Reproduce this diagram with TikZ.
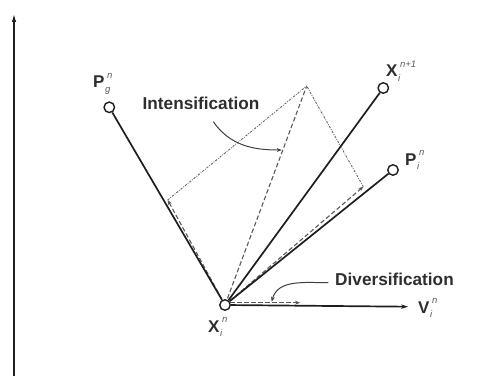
\documentclass[tikz,border=0pt]{standalone}
\usepackage{fontspec}
\setmainfont{Liberation Sans}
\usetikzlibrary{arrows.meta}
\definecolor{ink}{HTML}{1E1E1E}
\definecolor{txt}{HTML}{2E2E2E}
\definecolor{scr}{HTML}{5A5A5A}
\newcommand\scrfont{\fontsize{9.5}{10}\selectfont\itshape\mdseries\color{scr}}
\newcommand\ssc[2]{\rlap{\hspace{2.5pt}\raisebox{10pt}{\scrfont #2}}\raisebox{-4.5pt}{\hspace{0.5pt}\scrfont #1}}
\begin{document}
\begin{tikzpicture}[x=1pt,y=1pt,
  solidln/.style={draw=ink, line width=1.7pt},
  ptc/.style={circle, draw=ink, line width=1.4pt, fill=white, minimum size=10.5pt, inner sep=0pt},
  dashln/.style={draw=black!65, line width=1.1pt, dash pattern=on 4.5pt off 2.5pt},
  dotln/.style={draw=black!60, line width=0.9pt, dash pattern=on 2.2pt off 1.3pt on 0.8pt off 1.3pt},
  tip/.style={-{Stealth[length=5pt,width=4pt]}},
  lbl/.style={font=\fontsize{17}{20}\selectfont\bfseries, text=txt, inner sep=0pt},
  word/.style={font=\fontsize{17.2}{20}\selectfont\bfseries, text=txt, inner sep=0pt, anchor=base}]
\useasboundingbox (0,0) rectangle (483,376);

% axis
\coordinate (ax0) at (14,0);
\coordinate (ax1) at (14,363);
\draw[draw=ink, line width=1.7pt, -{Latex[length=9pt,width=4.5pt]}] (ax0) -- (ax1);

% key points
\coordinate (xc) at (225,71);
\coordinate (pgc) at (109.3,268.7);
\coordinate (xn1c) at (383.3,288);
\coordinate (pic) at (393,206);
\coordinate (vend) at (408,69.3);
\coordinate (top) at (306.7,290);
\coordinate (lc) at (167.7,176);
\coordinate (rc) at (363.3,189.3);
\coordinate (dstart) at (230,73.3);
\coordinate (dend) at (300,73.3);

% dashed construction
\draw[dashln, tip] (xc) -- (lc);
\draw[dashln, tip] (xc) -- (rc);
\draw[dashln] (xc) -- (top);
\draw[dotln] (lc) -- (top);
\draw[dotln] (rc) -- (top);
\draw[dashln, tip] (dstart) -- (dend);

% curved label arrows
\coordinate (ia) at (213.3,254.3);
\coordinate (ib) at (281.7,226);
\draw[draw=black!75, line width=1pt, tip] (ia) to[out=-55,in=180] (ib);
\coordinate (da) at (328.3,93.3);
\coordinate (db) at (271.7,74.3);
\draw[draw=black!75, line width=1pt, tip] (da) to[out=180,in=75] (db);

% points
\node[ptc] (X) at (xc) {};
\node[ptc] (Pg) at (pgc) {};
\node[ptc] (Xn) at (xn1c) {};
\node[ptc] (Pi) at (pic) {};

\draw[solidln] (X) -- (Pg);
\draw[solidln] (X) -- (Xn);
\draw[solidln] (X) -- (Pi);
\draw[solidln, -{Stealth[length=7pt,width=4.5pt]}] (X) -- (vend);

% labels
\node[lbl, anchor=base west] (lPg) at (93,288) {P\ssc{g}{n}};
\node[lbl, anchor=base west] (lXn) at (386,299) {X\ssc{i}{n+1}};
\node[lbl, anchor=base west] (lPi) at (405,211) {P\ssc{i}{n}};
\node[lbl, anchor=base west] (lV) at (418,63) {V\ssc{i}{n}};
\node[lbl, anchor=base west] (lX) at (208,44) {X\ssc{i}{n}};

\node[word] (int) at (201,266) {Intensification};
\node[word] (div) at (394.5,91) {Diversification};
\end{tikzpicture}
\end{document}
